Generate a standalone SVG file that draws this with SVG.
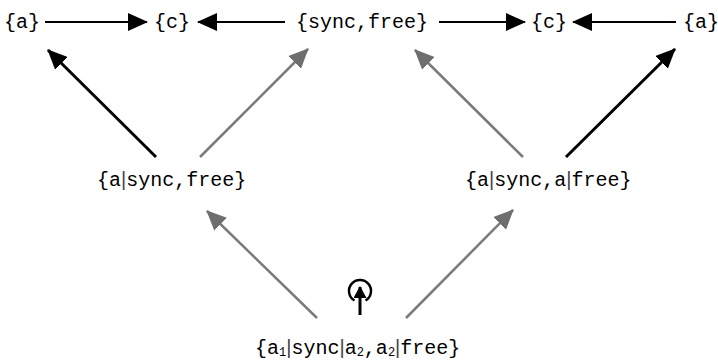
<svg xmlns="http://www.w3.org/2000/svg" width="718" height="360" viewBox="0 0 718 360">
<style>
.t{font-family:"Liberation Mono","Courier New",monospace;font-size:20px;fill:#000}
.bar{font-family:"Liberation Sans",Arial,sans-serif;font-size:20px;fill:#444}
.sub{font-size:12px}
.blk{stroke:#000;stroke-width:3;fill:none}
.hz{stroke:#000;stroke-width:2.2;fill:none}
.gry{stroke:#7a7a7a;stroke-width:2.5;fill:none}
</style>
<defs>
<marker id="hb" viewBox="0 0 20 18" refX="19" refY="9" markerWidth="20" markerHeight="18" markerUnits="userSpaceOnUse" orient="auto"><path d="M0,0 L20,9 L0,18 z" fill="#000"/></marker>
<marker id="hg" viewBox="0 0 20 18" refX="19" refY="9" markerWidth="20" markerHeight="18" markerUnits="userSpaceOnUse" orient="auto"><path d="M0,0 L20,9 L0,18 z" fill="#6e6e6e"/></marker>
<marker id="hs" viewBox="0 0 12 13" refX="11" refY="6.5" markerWidth="12" markerHeight="13" markerUnits="userSpaceOnUse" orient="auto"><path d="M0,0 L12,6.5 L0,13 z" fill="#000"/></marker>
</defs>
<g id="n_a1"><text class="t" x="4" y="28">{a}</text></g>
<g id="n_c1"><text class="t" x="154" y="28">{c}</text></g>
<g id="n_syncfree"><text class="t" x="296" y="28">{sync,free}</text></g>
<g id="n_c2"><text class="t" x="531" y="28">{c}</text></g>
<g id="n_a2"><text class="t" x="683" y="28">{a}</text></g>
<g id="n_left"><text class="t" x="97" y="186">{a<tspan class="bar">|</tspan>sync,free}</text></g>
<g id="n_right"><text class="t" x="465" y="186">{a<tspan class="bar">|</tspan>sync,a<tspan class="bar">|</tspan>free}</text></g>
<g id="n_bottom"><text class="t" x="255" y="354">{a<tspan class="sub" dy="2">1</tspan><tspan class="bar" dy="-2">|</tspan>sync<tspan class="bar">|</tspan>a<tspan class="sub" dy="2">2</tspan><tspan dy="-2">,a</tspan><tspan class="sub" dy="2">2</tspan><tspan class="bar" dy="-2">|</tspan>free}</text></g>
<g id="selfloop">
<path d="M354.5,300.5 A11,11 0 1 1 365.5,300.5" stroke="#000" stroke-width="2.5" fill="none"/>
<line x1="360" y1="315" x2="360" y2="287" stroke="#000" stroke-width="3" marker-end="url(#hs)"/>
</g>
<g id="connectors">
<line class="hz" x1="45" y1="22" x2="147" y2="22" marker-end="url(#hb)"/>
<line class="hz" x1="285" y1="22" x2="198" y2="22" marker-end="url(#hb)"/>
<line class="hz" x1="439" y1="22" x2="525" y2="22" marker-end="url(#hb)"/>
<line class="hz" x1="676" y1="22" x2="573" y2="22" marker-end="url(#hb)"/>
<line class="blk" x1="156" y1="157" x2="48" y2="50" marker-end="url(#hb)"/>
<line class="gry" x1="200" y1="157" x2="308" y2="49" marker-end="url(#hg)"/>
<line class="gry" x1="523" y1="157" x2="415" y2="50" marker-end="url(#hg)"/>
<line class="blk" x1="566" y1="157" x2="675" y2="49" marker-end="url(#hb)"/>
<line class="gry" x1="317" y1="318" x2="207" y2="211" marker-end="url(#hg)"/>
<line class="gry" x1="406" y1="318" x2="513" y2="210" marker-end="url(#hg)"/>
</g>
</svg>
